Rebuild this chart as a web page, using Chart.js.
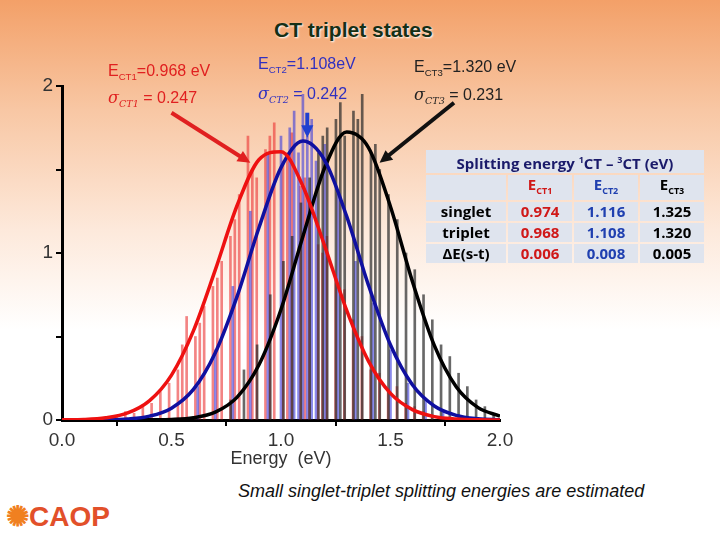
<!DOCTYPE html>
<html><head><meta charset="utf-8">
<script src="https://cdn.jsdelivr.net/npm/chart.js@4"></script>
<style>
body{margin:0;width:720px;height:540px;overflow:hidden;position:relative;font-family:"Liberation Sans",Arial,sans-serif;
background:linear-gradient(to bottom,#f3a068 0px,#f8c7a4 110px,#fde9db 230px,#ffffff 330px);}
#wrap{position:absolute;left:0;top:40px;width:520px;height:430px;}
.t{position:absolute;white-space:nowrap;}
sub{font-size:60%;}
table{position:absolute;left:424px;top:148px;width:282px;border-collapse:separate;border-spacing:2px;font-family:"Open Sans",sans-serif;font-weight:bold;font-size:15px;}
td{background:#dfe4ee;padding:0 4px;text-align:center;height:19px;line-height:19px;}
</style></head><body>
<div class="t" style="left:274px;top:18px;font-size:21px;font-weight:bold;color:#163016;text-shadow:1px 1px 2px #fff">CT triplet states</div>
<div id="wrap"><canvas id="graph1"></canvas></div>
<div class="t" style="left:108px;top:60px;color:#e02020;font-size:16px;line-height:21px">E<sub>CT1</sub>=0.968 eV<br><i style="font-family:'DejaVu Serif',serif">σ<sub>CT1</sub></i> = 0.247</div>
<div class="t" style="left:258px;top:52px;color:#3030c0;font-size:16px;line-height:24px">E<sub>CT2</sub>=1.108eV<br><i style="font-family:'DejaVu Serif',serif">σ<sub>CT2</sub></i> = 0.242</div>
<div class="t" style="left:414px;top:56px;color:#222;font-size:16px;line-height:22px">E<sub>CT3</sub>=1.320 eV<br><i style="font-family:'DejaVu Serif',serif">σ<sub>CT3</sub></i> = 0.231</div>
<table>
<tr><td colspan="4" style="color:#1a1a6a">Splitting energy <sup style="font-size:60%">1</sup>CT – <sup style="font-size:60%">3</sup>CT (eV)</td></tr>
<tr><td></td><td style="color:#d01818">E<sub>CT1</sub></td><td style="color:#2040b0">E<sub>CT2</sub></td><td>E<sub>CT3</sub></td></tr>
<tr><td>singlet</td><td style="color:#d01818">0.974</td><td style="color:#2040b0">1.116</td><td>1.325</td></tr>
<tr><td>triplet</td><td style="color:#d01818">0.968</td><td style="color:#2040b0">1.108</td><td>1.320</td></tr>
<tr><td>ΔE(s-t)</td><td style="color:#d01818">0.006</td><td style="color:#2040b0">0.008</td><td>0.005</td></tr>
</table>
<div class="t" style="left:238px;top:481px;font-size:18px;font-style:italic;color:#111">Small singlet-triplet splitting energies are estimated</div>
<div class="t" style="left:6px;top:500px;font-size:28px;font-weight:bold;color:#e2502a"><span style="color:#f08020">✺</span>CAOP</div>
<script>
var curveX = [0,0.1,0.2,0.3,0.4,0.5,0.6,0.7,0.8,0.9,1.0,1.1,1.2,1.3,1.4,1.5,1.6,1.7,1.8,1.9,2.0];
var redCurve = [0.001,0.003,0.013,0.042,0.116,0.269,0.534,0.899,1.286,1.56,1.607,1.40,1.04,0.656,0.351,0.159,0.062,0.020,0.006,0.001,0];
var blueCurve = [0,0,0.001,0.006,0.023,0.071,0.183,0.403,0.742,1.154,1.511,1.67,1.553,1.219,0.805,0.449,0.211,0.084,0.028,0.008,0.002];
var blackCurve = [0,0,0,0,0.001,0.003,0.013,0.047,0.137,0.332,0.662,1.099,1.512,1.724,1.63,1.277,0.830,0.447,0.199,0.074,0.023];

var redBarX = [0.24,0.28,0.32,0.36,0.40,0.44,0.48,0.52,0.54,0.56,0.60,0.62,0.64,0.68,0.70,0.72,0.76,0.78,0.80,0.84,0.86,0.88,0.92,0.94,0.96,1.00,1.02,1.04,1.08,1.10,1.12,1.16,1.18,1.20,1.24,1.28,1.32,1.36,1.40,1.44,1.48,1.52,1.56,1.60,1.64,1.68];
var redBarY = [0.02,0.05,0.04,0.09,0.10,0.17,0.22,0.30,0.45,0.62,0.50,0.58,0.68,0.80,0.85,0.95,1.10,1.20,1.35,1.70,1.50,1.45,1.62,1.70,1.78,1.55,1.60,1.72,1.40,1.45,1.30,1.05,1.00,1.10,0.85,0.78,0.60,0.50,0.30,0.28,0.18,0.20,0.10,0.08,0.05,0.03];
var blueBarX = [0.62,0.70,0.78,0.86,0.94,1.00,1.04,1.06,1.08,1.10,1.12,1.14,1.16,1.20,1.26,1.34,1.42,1.50,1.58,1.66,1.74];
var blueBarY = [0.20,0.42,0.80,1.25,1.60,1.70,1.75,1.85,1.60,1.95,1.70,1.80,1.55,1.65,1.35,0.95,0.70,0.42,0.22,0.12,0.05];
var blackBarX = [0.78,0.84,0.90,0.96,1.02,1.06,1.10,1.14,1.18,1.20,1.22,1.26,1.28,1.30,1.34,1.36,1.38,1.42,1.44,1.46,1.50,1.54,1.58,1.62,1.66,1.70,1.74,1.78,1.82,1.86,1.90,1.94,1.98];
var blackBarY = [0.12,0.30,0.45,0.75,0.95,1.10,1.30,1.45,1.60,1.70,1.75,1.80,1.90,1.70,1.85,1.80,1.95,1.60,1.65,1.50,1.35,1.20,1.00,0.90,0.75,0.60,0.45,0.38,0.28,0.20,0.12,0.08,0.04];

function pts(xs, ys){ return xs.map(function(x,i){ return {x:x, y:ys[i]}; }); }

var arrows = [
  {from:[0.50,1.84], to:[0.86,1.54], color:'#e02020'},
  {from:[1.12,1.84], to:[1.12,1.69], color:'#2040d0'},
  {from:[1.79,1.90], to:[1.45,1.54], color:'#111'}
];
var arrowPlugin = {
  id:'arrows',
  afterDatasetsDraw:function(chart){
    var c = chart.ctx, xs = chart.scales.x, ys = chart.scales.y;
    arrows.forEach(function(a){
      var x1=xs.getPixelForValue(a.from[0]), y1=ys.getPixelForValue(a.from[1]);
      var x2=xs.getPixelForValue(a.to[0]), y2=ys.getPixelForValue(a.to[1]);
      var ang=Math.atan2(y2-y1,x2-x1);
      c.save(); c.strokeStyle=a.color; c.fillStyle=a.color; c.lineWidth=4;
      c.beginPath(); c.moveTo(x1,y1); c.lineTo(x2-10*Math.cos(ang),y2-10*Math.sin(ang)); c.stroke();
      c.beginPath(); c.moveTo(x2,y2);
      c.lineTo(x2-14*Math.cos(ang-0.45),y2-14*Math.sin(ang-0.45));
      c.lineTo(x2-14*Math.cos(ang+0.45),y2-14*Math.sin(ang+0.45));
      c.closePath(); c.fill(); c.restore();
    });
  }
};

var ctx1 = document.getElementById('graph1');
var line = function(ys, col){ return {type:'line', data:pts(curveX, ys), borderColor:col, borderWidth:3.5, pointRadius:0, cubicInterpolationMode:'monotone', fill:false}; };
var bars = function(xs, ys, col){ return {type:'bar', data:pts(xs, ys), backgroundColor:col, barThickness:2}; };

var graph1 = new Chart(ctx1, {
  data:{datasets:[
    line(redCurve,'#ee1111'), line(blueCurve,'#1010a0'), line(blackCurve,'#000'),
    bars(blackBarX, blackBarY,'rgba(40,40,40,0.7)'),
    bars(blueBarX, blueBarY,'rgba(60,60,220,0.6)'),
    bars(redBarX, redBarY,'rgba(235,50,50,0.6)')
  ]},
  options:{
    animation:false, responsive:true, maintainAspectRatio:false,
    layout:{padding:{top:46,right:20}},
    plugins:{legend:{display:false}, tooltip:{enabled:false}},
    scales:{
      x:{type:'linear', min:0, max:2, offset:false,
        ticks:{stepSize:0.5, color:'#333', font:{size:19, family:'Liberation Sans'}, callback:function(v){return v.toFixed(1);}},
        grid:{drawOnChartArea:false, color:'#000', tickLength:6, lineWidth:2},
        border:{color:'#000', width:3},
        title:{display:true, text:'Energy  (eV)', color:'#333', font:{size:18, family:'Liberation Sans'}, padding:0},
        afterFit:function(s){ s.height = 50; }},
      y:{min:0, max:2,
        ticks:{stepSize:0.5, color:'#333', font:{size:19, family:'Liberation Sans'}, callback:function(v){return Number.isInteger(v)?v:'';}},
        grid:{drawOnChartArea:false, color:'#000', tickLength:6, lineWidth:2},
        border:{color:'#000', width:3},
        afterFit:function(s){ s.width = 62; }}
    }
  },
  plugins:[arrowPlugin]
});
</script>
</body></html>
